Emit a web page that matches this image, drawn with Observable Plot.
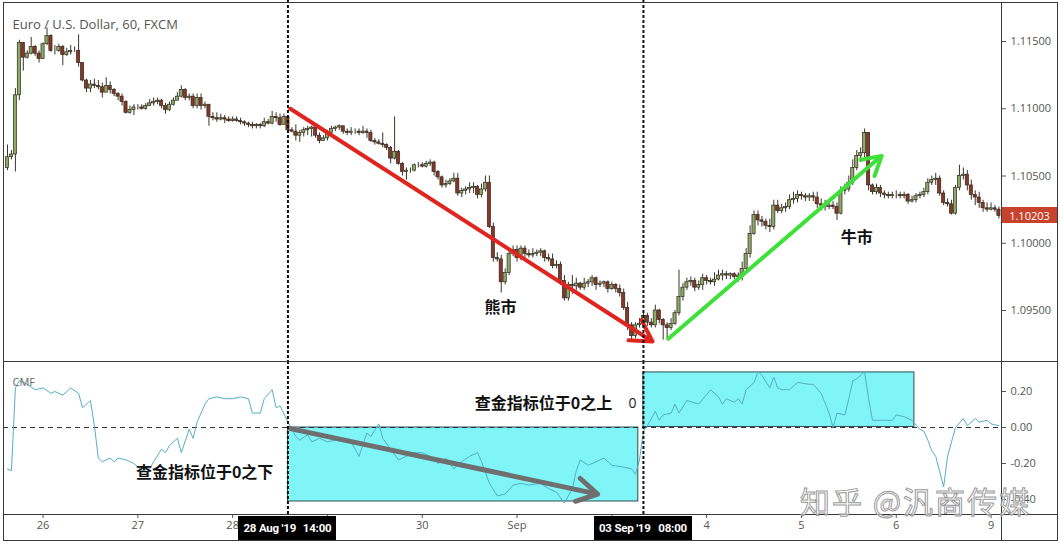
<!DOCTYPE html>
<html><head><meta charset="utf-8">
<script src="https://cdn.jsdelivr.net/npm/d3@7"></script>
<script src="https://cdn.jsdelivr.net/npm/@observablehq/plot@0.6"></script>
<style>
body{margin:0;background:#fff;}
#wrap{position:relative;width:1060px;height:546px;overflow:hidden;background:#fff;}
#wrap svg{position:absolute;left:0;overflow:visible;}
.ln{position:absolute;background:#3a3a3a;}
.tag{position:absolute;background:#000;color:#fff;font:bold 11.5px Roboto,sans-serif;letter-spacing:-0.2px;display:flex;align-items:center;justify-content:space-between;padding:0 5px;box-sizing:border-box;}
.ptag{position:absolute;background:#c9432c;color:#fff;font:11px "Open Sans",sans-serif;display:flex;align-items:center;justify-content:center;}
.wm{position:absolute;font:30px "Noto Sans CJK SC",sans-serif;color:rgba(255,255,255,0.6);-webkit-text-stroke:1px #9a9a9a;letter-spacing:2px;white-space:nowrap;}
</style></head><body><div id="wrap"></div>
<script>
// ---------- data ----------
const firstOpen = 1.1056;
const closes = [
1.1064,1.1066,1.1110,1.1149,1.1138,1.1141,1.1146,1.1141,1.1137,1.1148,
1.1154,1.1143,1.1143,1.1146,1.1140,1.1142,1.1143,1.1143,1.1134,1.1121,
1.1115,1.1118,1.1117,1.1116,1.1112,1.1117,1.1114,1.1111,1.1109,1.1105,
1.1097,1.1099,1.1101,1.1101,1.1100,1.1102,1.1104,1.1105,1.1106,1.1102,
1.1099,1.1103,1.1106,1.1109,1.1114,1.1108,1.1109,1.1102,1.1108,1.1102,
1.1103,1.1094,1.1093,1.1092,1.1093,1.1092,1.1091,1.1092,1.1091,1.1090,
1.1089,1.1088,1.1087,1.1088,1.1087,1.1090,1.1089,1.1094,1.1093,1.1088,
1.1094,1.1084,1.1083,1.1080,1.1082,1.1084,1.1085,1.1086,1.1080,1.1076,
1.1078,1.1082,1.1085,1.1086,1.1087,1.1083,1.1082,1.1083,1.1083,1.1082,
1.1083,1.1082,1.1076,1.1075,1.1074,1.1073,1.1071,1.1063,1.1068,1.1059,
1.1053,1.1054,1.1054,1.1058,1.1058,1.1057,1.1059,1.1060,1.1053,1.1049,
1.1043,1.1044,1.1046,1.1048,1.1037,1.1039,1.1040,1.1041,1.1042,1.1036,
1.1040,1.1045,1.1012,1.0989,1.0988,1.0971,1.0978,1.0992,1.0995,1.0989,
1.0996,1.0992,1.0991,1.0992,1.0993,1.0994,1.0989,1.0988,1.0983,1.0984,
1.0972,1.0959,1.0969,1.0968,1.0970,1.0967,1.0970,1.0971,1.0974,1.0969,
1.0970,1.0971,1.0966,1.0969,1.0966,1.0963,1.0952,1.0939,1.0931,1.0939,
1.0940,1.0946,1.0941,1.0939,1.0950,1.0943,1.0939,1.0937,1.0940,1.0948,
1.0960,1.0967,1.0971,1.0972,1.0967,1.0969,1.0974,1.0972,1.0971,1.0973,
1.0976,1.0977,1.0976,1.0977,1.0975,1.0976,1.0981,1.0992,1.1007,1.1021,
1.1017,1.1016,1.1013,1.1012,1.1028,1.1024,1.1026,1.1027,1.1032,1.1033,
1.1036,1.1035,1.1034,1.1035,1.1034,1.1029,1.1028,1.1027,1.1028,1.1027,
1.1022,1.1039,1.1040,1.1045,1.1056,1.1065,1.1067,1.1082,1.1043,1.1038,
1.1041,1.1037,1.1036,1.1035,1.1036,1.1036,1.1035,1.1036,1.1031,1.1032,
1.1035,1.1036,1.1038,1.1045,1.1047,1.1048,1.1037,1.1030,1.1029,1.1022,
1.1041,1.1050,1.1051,1.1043,1.1036,1.1034,1.1030,1.1026,1.1025,1.1026,
1.1025,1.10203];
const highs = [
1.1073,1.1069,1.1115,1.1151,1.1149,1.1143,1.1153,1.1147,1.1143,1.1149,
1.1160,1.1155,1.1147,1.1148,1.1147,1.1145,1.1147,1.1146,1.1155,1.1134,
1.1122,1.1121,1.1122,1.1121,1.1119,1.1123,1.1120,1.1115,1.1112,1.1111,
1.1106,1.1102,1.1103,1.1103,1.1103,1.1104,1.1107,1.1108,1.1108,1.1107,
1.1104,1.1105,1.1108,1.1112,1.1117,1.1115,1.1111,1.1111,1.1111,1.1111,
1.1105,1.1103,1.1097,1.1097,1.1096,1.1095,1.1094,1.1094,1.1094,1.1093,
1.1091,1.1090,1.1090,1.1089,1.1089,1.1093,1.1092,1.1098,1.1097,1.1096,
1.1096,1.1095,1.1086,1.1088,1.1084,1.1086,1.1087,1.1087,1.1086,1.1082,
1.1080,1.1084,1.1087,1.1087,1.1088,1.1087,1.1085,1.1086,1.1085,1.1085,
1.1087,1.1085,1.1084,1.1078,1.1077,1.1082,1.1074,1.1072,1.1094,1.1069,
1.1060,1.1056,1.1056,1.1059,1.1060,1.1060,1.1061,1.1062,1.1061,1.1054,
1.1050,1.1047,1.1048,1.1052,1.1052,1.1041,1.1042,1.1045,1.1045,1.1043,
1.1044,1.1050,1.1050,1.1015,1.0993,1.0991,1.0981,1.0995,1.0998,1.0998,
1.0998,1.0998,1.0995,1.0996,1.0995,1.0996,1.0995,1.0992,1.0992,1.0987,
1.0986,1.0976,1.0971,1.0976,1.0974,1.0971,1.0974,1.0973,1.0976,1.0975,
1.0972,1.0972,1.0972,1.0971,1.0970,1.0969,1.0966,1.0956,1.0941,1.0941,
1.0944,1.0950,1.0948,1.0944,1.0954,1.0951,1.0944,1.0941,1.0944,1.0950,
1.0980,1.0970,1.0974,1.0975,1.0974,1.0972,1.0977,1.0976,1.0974,1.0978,
1.0980,1.0980,1.0979,1.0978,1.0978,1.0978,1.0986,1.0996,1.1013,1.1024,
1.1024,1.1020,1.1018,1.1018,1.1032,1.1032,1.1029,1.1030,1.1036,1.1038,
1.1039,1.1038,1.1037,1.1037,1.1038,1.1038,1.1033,1.1032,1.1031,1.1031,
1.1030,1.1042,1.1044,1.1050,1.1062,1.1069,1.1071,1.1085,1.1082,1.1044,
1.1044,1.1043,1.1039,1.1038,1.1038,1.1039,1.1038,1.1038,1.1037,1.1035,
1.1037,1.1038,1.1041,1.1048,1.1050,1.1052,1.1050,1.1039,1.1033,1.1032,
1.1043,1.1058,1.1056,1.1054,1.1047,1.1039,1.1038,1.1032,1.1030,1.1030,
1.1028,1.1027];
const lows = [
1.1054,1.1062,1.1053,1.1106,1.1128,1.1137,1.1140,1.1139,1.1134,1.1137,
1.1147,1.1142,1.1140,1.1142,1.1132,1.1139,1.1140,1.1142,1.1131,1.1120,
1.1112,1.1112,1.1115,1.1114,1.1108,1.1114,1.1111,1.1109,1.1106,1.1102,
1.1096,1.1096,1.1095,1.1099,1.1099,1.1099,1.1102,1.1102,1.1103,1.1100,
1.1096,1.1098,1.1102,1.1106,1.1108,1.1106,1.1106,1.1100,1.1100,1.1099,
1.1100,1.1087,1.1091,1.1090,1.1091,1.1089,1.1090,1.1090,1.1090,1.1088,
1.1087,1.1086,1.1085,1.1085,1.1085,1.1086,1.1088,1.1088,1.1090,1.1087,
1.1091,1.1082,1.1082,1.1076,1.1075,1.1079,1.1080,1.1079,1.1078,1.1074,
1.1076,1.1076,1.1081,1.1083,1.1084,1.1081,1.1080,1.1080,1.1081,1.1080,
1.1081,1.1078,1.1075,1.1073,1.1073,1.1071,1.1069,1.1059,1.1062,1.1058,
1.1050,1.1047,1.1052,1.1053,1.1056,1.1056,1.1056,1.1057,1.1050,1.1047,
1.1041,1.1041,1.1043,1.1045,1.1035,1.1034,1.1036,1.1037,1.1037,1.1033,
1.1034,1.1038,1.1011,1.0986,1.0986,1.0963,1.0969,1.0976,1.0990,1.0986,
1.0987,1.0989,1.0989,1.0989,1.0990,1.0990,1.0986,1.0986,1.0981,1.0981,
1.0969,1.0957,1.0957,1.0962,1.0965,1.0965,1.0965,1.0967,1.0968,1.0965,
1.0967,1.0967,1.0963,1.0965,1.0963,1.0960,1.0950,1.0935,1.0928,1.0929,
1.0937,1.0939,1.0938,1.0937,1.0937,1.0940,1.0928,1.0928,1.0935,1.0939,
1.0946,1.0957,1.0965,1.0968,1.0964,1.0965,1.0965,1.0969,1.0969,1.0968,
1.0972,1.0972,1.0973,1.0973,1.0973,1.0971,1.0972,1.0980,1.0989,1.1006,
1.1013,1.1012,1.1010,1.1008,1.1010,1.1022,1.1022,1.1023,1.1025,1.1029,
1.1030,1.1032,1.1031,1.1031,1.1031,1.1026,1.1024,1.1024,1.1025,1.1025,
1.1017,1.1021,1.1036,1.1038,1.1043,1.1054,1.1060,1.1062,1.1039,1.1036,
1.1036,1.1034,1.1033,1.1033,1.1033,1.1033,1.1033,1.1033,1.1029,1.1030,
1.1030,1.1033,1.1034,1.1036,1.1043,1.1043,1.1035,1.1028,1.1027,1.1021,
1.1021,1.1039,1.1047,1.1039,1.1032,1.1028,1.1026,1.1023,1.1023,1.1024,
1.1023,1.1018];

// CMF (Chaikin Money Flow) readings: bar index and value
const cmfBar = [1,2,3,4,6,8,10,12,13,15,17,19,20,22,23,24,25,27,28,29,31,33,35,37,38,40,41,42,44,45,47,48,49,51,52,54,56,58,60,62,63,65,66,68,69,70,72,73,74,75,77,78,80,82,84,86,88,90,92,93,95,96,98,100,102,104,106,108,110,112,114,116,118,120,121,123,125,127,129,131,133,136,138,140,142,144,145,146,148,150,152,154,157,159,160,161,162,163,165,166,167,169,170,171,173,176,179,181,182,183,185,186,187,188,190,191,192,194,195,196,197,199,201,204,205,207,209,210,211,213,214,215,216,218,219,220,222,225,226,228,229,230,232,233,234,235,236,238,239,240,241,243,244,246,247,249,250,252];
const cmfVal = [-0.23,-0.24,0.22,0.26,0.24,0.21,0.22,0.19,0.20,0.18,0.22,0.19,0.11,0.15,0.01,-0.17,-0.19,-0.17,-0.19,-0.17,-0.18,-0.20,-0.24,-0.23,-0.19,-0.12,-0.14,-0.10,-0.06,-0.14,-0.01,-0.06,0.03,0.13,0.16,0.17,0.16,0.16,0.17,0.16,0.08,0.08,0.16,0.21,0.11,0.12,0.03,-0.01,-0.05,-0.07,-0.04,-0.08,-0.06,-0.08,-0.07,-0.06,-0.08,-0.16,-0.03,-0.05,0.02,-0.06,-0.12,-0.18,-0.16,-0.14,-0.14,-0.16,-0.20,-0.17,-0.23,-0.19,-0.16,-0.14,-0.19,-0.31,-0.38,-0.37,-0.32,-0.31,-0.32,-0.31,-0.34,-0.36,-0.42,-0.34,-0.24,-0.18,-0.21,-0.19,-0.17,-0.21,-0.22,-0.23,-0.26,-0.18,-0.02,0.01,0.09,0.04,0.07,0.08,0.13,0.08,0.15,0.13,0.21,0.17,0.13,0.16,0.14,0.16,0.13,0.21,0.25,0.31,0.29,0.22,0.28,0.22,0.21,0.21,0.25,0.24,0.24,0.19,0.08,0.00,0.08,0.07,0.16,0.26,0.27,0.31,0.16,0.04,0.04,0.04,0.07,0.06,0.05,0.04,-0.01,-0.02,-0.07,-0.13,-0.16,-0.33,-0.16,-0.08,0.00,0.05,0.01,0.05,0.03,0.04,0.02,0.01];

// axis ticks
const priceTicks = [1.095, 1.100, 1.105, 1.110, 1.115];
const cmfTicks = [0.2, 0, -0.2, -0.4];
const dayTickBar = [10, 34, 58, 82, 106, 130, 154, 178, 202, 226, 250];
const dayTickLabel = ["26","27","28","29","30","Sep","3","4","5","6","9"];

// annotations (bar index / price or CMF units)
const markerBar = [72, 162];
const markerDate = ["28 Aug '19", "03 Sep '19"];
const markerTime = ["14:00", "08:00"];
const boxStart = [72, 162], boxEnd = [160.7, 230.6];
const boxLow = [-0.411, 0.003], boxHigh = [0, 0.306];
const redArrow = [72.6, 1.1100, 164.3, 1.0927];
const greenArrow = [168.3, 1.0929, 222.3, 1.1065];
const grayArrow = [72.6, -0.006, 150.4, -0.37];
const priceNotes = [{i:125.8, p:1.0952, t:"熊市"}, {i:216, p:1.1004, t:"牛市"}];
const cmfNotes = [{i:136.7, v:0.133, t:"查金指标位于0之上"}, {i:50.9, v:-0.25, t:"查金指标位于0之下"}];
const zeroNote = {i:159.2, v:0.133, t:"0"};
const lastPrice = 1.10203;

// ---------- build ----------
const candles = closes.map((c, k) => {
  const o = k ? closes[k-1] : firstOpen;
  return {i: k+1, o, c, h: Math.max(highs[k], o, c), l: Math.min(lows[k], o, c), up: c >= o};
});
const cmf = cmfBar.map((b, k) => ({i: b, v: cmfVal[k]}));
const boxes = boxStart.map((s, k) => ({x1: s, x2: boxEnd[k], y1: boxLow[k], y2: boxHigh[k]}));
const tickMap = new Map(dayTickBar.map((b, k) => [b, dayTickLabel[k]]));
const xDomain = [-0.013, 252.65];
const cjk = "Noto Sans CJK SC, sans-serif";
const common = {width: 1060, marginLeft: 3, marginRight: 59, marginTop: 0,
  style: {color: "#555", fontFamily: "Open Sans, sans-serif", fontSize: "11px", background: "transparent", overflow: "visible"}};

const topPlot = Plot.plot({...common, height: 361, marginBottom: 0,
  x: {domain: xDomain, axis: null, label: null},
  y: {domain: [1.09121, 1.11805], label: null, axis: null},
  marks: [
    Plot.axisY({anchor: "right", ticks: priceTicks, tickFormat: d => d.toFixed(5), tickSize: 4, tickPadding: 5, label: null}),
    Plot.ruleX(candles, {x: "i", y1: "l", y2: "h", stroke: "#3a3528", strokeWidth: 1}),
    Plot.rect(candles, {x1: d => d.i - 0.4, x2: d => d.i + 0.4, y1: "o", y2: "c",
      fill: d => d.up ? "#8ea866" : "#8a3626", stroke: "#2e2a20", strokeWidth: 0.7}),
    Plot.arrow([redArrow], {x1: d => d[0], y1: d => d[1], x2: d => d[2], y2: d => d[3],
      stroke: "#e0251f", strokeWidth: 4, headLength: 9}),
    Plot.arrow([greenArrow], {x1: d => d[0], y1: d => d[1], x2: d => d[2], y2: d => d[3],
      stroke: "#3ee03a", strokeWidth: 4, headLength: 8}),
    Plot.ruleX(markerBar, {stroke: "#111", strokeWidth: 2, strokeDasharray: "3,2"}),
    Plot.text(priceNotes, {x: "i", y: "p", text: "t", fontFamily: cjk, fontWeight: "bold", fontSize: 16, fill: "#111"}),
    Plot.text(["Euro / U.S. Dollar, 60, FXCM"], {frameAnchor: "top-left", dx: 9, dy: 19, textAnchor: "start",
      fontSize: 13, fill: "#555"})
  ]
});

const botPlot = Plot.plot({...common, height: 185, marginBottom: 32,
  x: {domain: xDomain, label: null, axis: null},
  y: {domain: [-0.4833, 0.3667], label: null, axis: null},
  marks: [
    Plot.rect(boxes, {x1: "x1", x2: "x2", y1: "y1", y2: "y2", fill: "#80f5f8", stroke: "#2f4d50", strokeWidth: 1}),
    Plot.ruleY([0], {stroke: "#333", strokeDasharray: "5,4"}),
    Plot.line(cmf, {x: "i", y: "v", stroke: "#55afc4", strokeWidth: 1}),
    Plot.arrow([grayArrow], {x1: d => d[0], y1: d => d[1], x2: d => d[2], y2: d => d[3],
      stroke: "#6f6f6f", strokeWidth: 5, headLength: 7}),
    Plot.ruleX(markerBar, {stroke: "#111", strokeWidth: 2, strokeDasharray: "3,2"}),
    Plot.axisY({anchor: "right", ticks: cmfTicks, tickFormat: d => d.toFixed(2), tickSize: 4, tickPadding: 5, label: null}),
    Plot.axisX({ticks: dayTickBar, tickFormat: d => tickMap.get(d), tickSize: 4, tickPadding: 3, label: null}),
    Plot.text(cmfNotes, {x: "i", y: "v", text: "t", fontFamily: cjk, fontWeight: "bold", fontSize: 16, fill: "#111"}),
    Plot.text([zeroNote], {x: "i", y: "v", text: "t", fontSize: 14, fill: "#222"}),
    Plot.text(["CMF"], {frameAnchor: "top-left", dx: 9, dy: 17, textAnchor: "start", fontSize: 11, fill: "#666"})
  ]
});

const wrap = document.getElementById("wrap");
topPlot.style.top = "0px";
botPlot.style.top = "361px";
wrap.appendChild(topPlot);
wrap.appendChild(botPlot);

function line(l, t, w, h) {
  const d = document.createElement("div"); d.className = "ln";
  Object.assign(d.style, {left: l + "px", top: t + "px", width: w + "px", height: h + "px"});
  wrap.appendChild(d);
}
line(3, 2, 1055, 1); line(3, 540, 1055, 1); line(3, 2, 1, 539); line(1057, 2, 1, 539);
line(3, 361, 1055, 1); line(3, 514, 1055, 1); line(1001, 2, 1, 539);

// watermark
const wm = document.createElement("div"); wm.className = "wm";
wm.textContent = "知乎 @汎商传媒";
Object.assign(wm.style, {left: "800px", top: "478px"});
wrap.appendChild(wm);

// last price tag on the price scale
const ys = topPlot.scale("y");
const pt = document.createElement("div"); pt.className = "ptag";
pt.textContent = lastPrice.toFixed(5);
Object.assign(pt.style, {left: "1002px", top: (ys.apply(lastPrice) - 8) + "px", width: "55px", height: "16px"});
wrap.appendChild(pt);

// crosshair time tags
const xs = botPlot.scale("x");
markerBar.forEach((b, k) => {
  const t = document.createElement("div"); t.className = "tag";
  t.innerHTML = `<span>${markerDate[k]}</span><span>${markerTime[k]}</span>`;
  const cx = xs.apply(b);
  Object.assign(t.style, {left: (cx - 49) + "px", top: "516px", width: "98px", height: "24px"});
  wrap.appendChild(t);
});
</script></body></html>
